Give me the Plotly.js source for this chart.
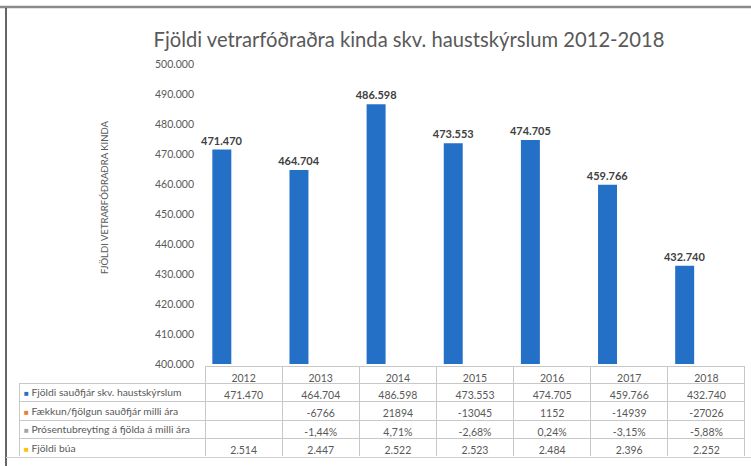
<!DOCTYPE html>
<html>
<head>
<meta charset="utf-8">
<script src="https://cdn.plot.ly/plotly-3.0.1.min.js"></script>
<style>html,body{margin:0;padding:0;background:#fff;}#chart{width:751px;height:466px;}</style>
</head>
<body>
<div id="chart"></div>
<script>
// ---- data ----
const years = ['2012', '2013', '2014', '2015', '2016', '2017', '2018'];
const sheepCount = [471470, 464704, 486598, 473553, 474705, 459766, 432740];
const changeCount = [null, -6766, 21894, -13045, 1152, -14939, -27026];
const changePct = [null, -1.44, 4.71, -2.68, 0.24, -3.15, -5.88];
const farmCount = [2514, 2447, 2522, 2523, 2484, 2396, 2252];
const rowLabels = [
  'Fjöldi sauðfjár skv. haustskýrslum',
  'Fækkun/fjölgun sauðfjár milli ára',
  'Prósentubreyting á fjölda á milli ára',
  'Fjöldi búa'
];
const rowColors = ['#2470c6', '#ed7d31', '#a5a5a5', '#ffc000'];
const titleText = 'Fjöldi vetrarfóðraðra kinda skv. haustskýrslum 2012-2018';
const yTitleText = 'FJÖLDI VETRARFÓÐRAÐRA KINDA';

// ---- helpers ----
function thousands(v) { return String(v).replace(/\B(?=(\d{3})+(?!\d))/g, '.'); }
function pct(v) { return v === null ? '' : v.toFixed(2).replace('.', ',') + '%'; }
function plain(v) { return v === null ? '' : String(v); }

const W = 751, H = 466;
const M = {l: 10, r: 6, t: 8, b: 6};
const PW = W - M.l - M.r, PH = H - M.t - M.b;
const px = x => (x - M.l) / PW;
const py = y => (H - M.b - y) / PH;

const FONT = 'Lato, "Open Sans", sans-serif';
const TXT = '#595959';
const CLEAR = 'rgba(0,0,0,0)';

const HEADER_H = 17, ROW_H = 18.5, TABLE_TOP = 366;

const columns = [rowLabels.map(() => '')];
years.forEach((y, i) => {
  columns.push([
    thousands(sheepCount[i]),
    plain(changeCount[i]),
    pct(changePct[i]),
    thousands(farmCount[i])
  ]);
});

const bars = {
  type: 'bar',
  x: years,
  y: sheepCount,
  marker: {color: '#2470c6'},
  width: 0.246,
  offset: -0.405,
  texttemplate: '%{y:,.0f}',
  textposition: 'outside',
  constraintext: 'none',
  cliponaxis: false,
  textfont: {family: FONT, size: 11, color: '#404040', weight: 'bold'},
  hoverinfo: 'x+y',
  showlegend: false
};

const colW = [186].concat(years.map(() => 77.14));
const table = {
  type: 'table',
  domain: {x: [px(19), 1], y: [py(457), py(TABLE_TOP)]},
  columnwidth: colW,
  header: {
    values: [''].concat(years),
    align: 'center',
    height: HEADER_H,
    font: {family: FONT, size: 10.5, color: TXT},
    fill: {color: [CLEAR].concat(years.map(() => 'white'))},
    line: {color: [CLEAR].concat(years.map(() => '#c8c8c8')), width: 1}
  },
  cells: {
    values: columns,
    align: ['left'].concat(years.map(() => 'center')),
    height: ROW_H,
    font: {family: FONT, size: 10.5, color: TXT},
    fill: {color: CLEAR},
    line: {color: '#c8c8c8', width: 1}
  }
};

const annotations = rowLabels.map((t, i) => ({
  xref: 'paper', yref: 'paper',
  x: px(22), xanchor: 'left',
  y: py(TABLE_TOP + HEADER_H + ROW_H * (i + 0.5)), yanchor: 'middle',
  text: '<span style="color:' + rowColors[i] + ';font-size:8px">■</span> ' + t,
  showarrow: false,
  font: {family: FONT, size: 10.3, color: TXT}
}));
annotations.push({
  xref: 'paper', yref: 'paper',
  x: px(104), xanchor: 'center',
  y: py(198), yanchor: 'middle',
  text: yTitleText, textangle: -90,
  showarrow: false,
  font: {family: FONT, size: 9.5, color: TXT}
});

const layout = {
  width: W, height: H,
  margin: M,
  paper_bgcolor: 'white',
  plot_bgcolor: 'white',
  separators: ',.',
  font: {family: FONT, color: TXT},
  title: {
    text: titleText,
    x: 409 / W, xanchor: 'center', xref: 'container',
    y: 1 - 40 / H, yanchor: 'middle', yref: 'container',
    font: {family: FONT, size: 20.2, color: TXT}
  },
  xaxis: {
    domain: [px(205), 1],
    type: 'category',
    range: [-0.5, 6.5],
    showticklabels: false,
    showgrid: false,
    zeroline: false,
    showline: false,
    ticks: ''
  },
  yaxis: {
    domain: [py(364), py(64)],
    range: [400000, 500000],
    dtick: 10000,
    tickformat: ',.0f',
    showgrid: false,
    zeroline: false,
    showline: false,
    ticks: '',
    ticklabelstandoff: 10,
    tickfont: {family: FONT, size: 10.5, color: TXT}
  },
  annotations: annotations,
  shapes: [
    {type: 'line', xref: 'paper', yref: 'paper', x0: px(0), x1: px(751), y0: py(7), y1: py(7), line: {color: '#8a8a8a', width: 2.5}},
    {type: 'line', xref: 'paper', yref: 'paper', x0: px(6), x1: px(6), y0: py(8), y1: py(466), line: {color: '#333333', width: 1.5}},
    {type: 'line', xref: 'paper', yref: 'paper', x0: px(6), x1: px(751), y0: py(457.5), y1: py(457.5), line: {color: '#d0d0d0', width: 1}}
  ]
};

Plotly.newPlot('chart', [bars, table], layout, {displayModeBar: false, staticPlot: true});
</script>
</body>
</html>
